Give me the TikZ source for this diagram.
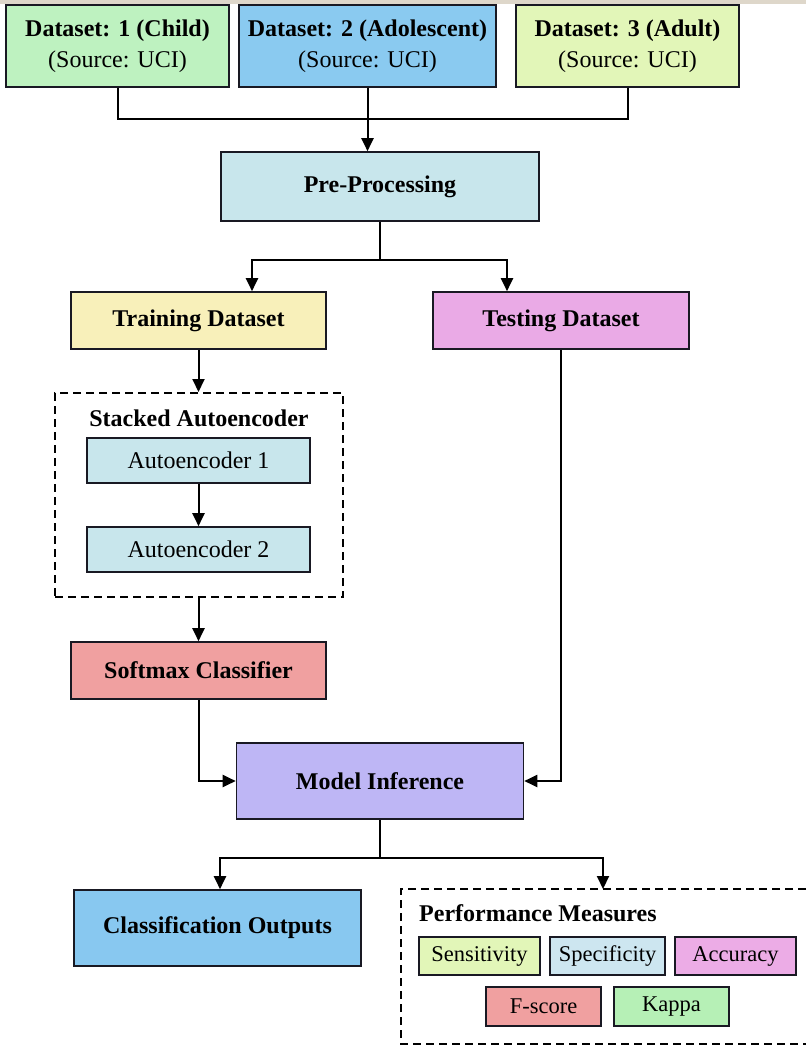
\documentclass[tikz,border=0pt]{standalone}
\usepackage{fontspec}
\setmainfont{Liberation Serif}
\usetikzlibrary{arrows.meta}
\definecolor{cD1}{RGB}{190,242,192}
\definecolor{cD2}{RGB}{138,202,240}
\definecolor{cD3}{RGB}{226,246,184}
\definecolor{cPre}{RGB}{200,230,236}
\definecolor{cTrain}{RGB}{248,240,186}
\definecolor{cTest}{RGB}{234,170,230}
\definecolor{cSoft}{RGB}{240,160,160}
\definecolor{cMI}{RGB}{190,182,245}
\definecolor{cCls}{RGB}{136,200,240}
\definecolor{cSens}{RGB}{226,246,184}
\definecolor{cSpec}{RGB}{205,230,240}
\definecolor{cAcc}{RGB}{236,172,230}
\definecolor{cFs}{RGB}{240,160,160}
\definecolor{cKap}{RGB}{182,240,182}
\definecolor{cBand}{RGB}{222,215,202}
\definecolor{cLine}{RGB}{25,25,35}
\tikzset{
  box/.style={draw=cLine, line width=1.6pt, rectangle, inner sep=0pt, align=center,
    font=\fontsize{24}{31}\selectfont\bfseries},
  subbox/.style={draw=cLine, line width=1.6pt, rectangle, inner sep=0pt, align=center,
    font=\fontsize{24}{28}\selectfont, fill=cPre, minimum width=223pt, minimum height=45pt},
  measure/.style={draw=cLine, line width=1.6pt, rectangle, inner sep=0pt, align=center,
    font=\fontsize{22.5}{26}\selectfont, minimum height=38pt},
  group/.style={draw=black, line width=2pt, dash pattern=on 8pt off 5pt},
  conn/.style={draw=black, line width=2pt},
  arr/.style={conn, -{Triangle[length=13pt,width=12pt]}},
  title/.style={font=\fontsize{24}{28}\selectfont\bfseries, inner sep=0pt}
}
\begin{document}
\begin{tikzpicture}[x=1pt,y=-1pt]
\useasboundingbox (0,0) rectangle (806,1048);
\fill[white] (0,0) rectangle (806,1048);
\fill[cBand] (0,0) rectangle (806,4);

% top datasets
\node[box, fill=cD1, minimum width=223pt, minimum height=82pt] (d1) at (117.5,46)
  {Dataset: 1 (Child)\\\mdseries(Source: UCI)};
\node[box, fill=cD2, minimum width=257pt, minimum height=82pt] (d2) at (367.5,46)
  {Dataset: 2 (Adolescent)\\\mdseries(Source: UCI)};
\node[box, fill=cD3, minimum width=223pt, minimum height=82pt] (d3) at (627.5,46)
  {Dataset: 3 (Adult)\\\mdseries(Source: UCI)};

\node[box, fill=cPre, minimum width=318pt, minimum height=69pt] (pre) at (380,186.5) {Pre-Processing};

\node[box, fill=cTrain, minimum width=255pt, minimum height=57pt] (train) at (198.5,320.5) {Training Dataset};
\node[box, fill=cTest, minimum width=256pt, minimum height=57pt] (test) at (561,320.5) {Testing Dataset};

% stacked autoencoder group
\node[group, rectangle, minimum width=288pt, minimum height=204pt, inner sep=0pt] (sae) at (199,495) {};
\node[title] (saet) at (199,418) {Stacked Autoencoder};
\node[subbox] (ae1) at (198.5,460.5) {Autoencoder 1};
\node[subbox] (ae2) at (198.5,549.5) {Autoencoder 2};

\node[box, fill=cSoft, minimum width=255pt, minimum height=57pt] (soft) at (198.5,670.5) {Softmax Classifier};

\node[box, fill=cMI, minimum width=287pt, minimum height=76pt] (mi) at (380,781) {Model Inference};

\node[box, fill=cCls, minimum width=287pt, minimum height=76pt] (cls) at (217.5,928) {Classification Outputs};

% performance measures group (runs off the right edge)
\draw[group] (806,889) -- (401,889) -- (401,1044) -- (806,1044);
\coordinate (pm) at (603,889);
\node[title, anchor=west] (pmt) at (419,913) {Performance Measures};
\node[measure, fill=cSens, minimum width=121pt] (sens) at (479.5,956) {Sensitivity};
\node[measure, fill=cSpec, minimum width=115pt] (spec) at (607.5,956) {Specificity};
\node[measure, fill=cAcc, minimum width=121pt] (acc) at (735.5,956) {Accuracy};
\node[measure, fill=cFs, minimum width=115pt, minimum height=39pt] (fs) at (543.5,1006.5) {F-score};
\node[measure, fill=cKap, minimum width=115pt, minimum height=39pt] (kap) at (671.5,1006.5) {Kappa};

% connectors
\coordinate (j1) at (367.5,119);
\draw[conn] (d1.south) |- (j1);
\draw[conn] (d3.south) |- (j1);
\draw[arr] (d2.south) -- (d2.south |- pre.north);

\coordinate (j2) at (380,260);
\draw[conn] (pre.south) -- (j2);
\draw[arr] (j2) -| ([xshift=53.5pt]train.north);
\draw[arr] (j2) -| ([xshift=-54pt]test.north);

\draw[arr] (train.south) -- (train.south |- sae.north);
\draw[arr] (ae1) -- (ae2);
\draw[arr] (soft.north |- sae.south) -- (soft.north);
\draw[arr] (soft.south) |- (mi.west);
\draw[arr] (test.south) |- (mi.east);

\coordinate (j3) at (380,858);
\draw[conn] (mi.south) -- (j3);
\draw[arr] (j3) -| ([xshift=2.5pt]cls.north);
\draw[arr] (j3) -| (pm);
\end{tikzpicture}
\end{document}
